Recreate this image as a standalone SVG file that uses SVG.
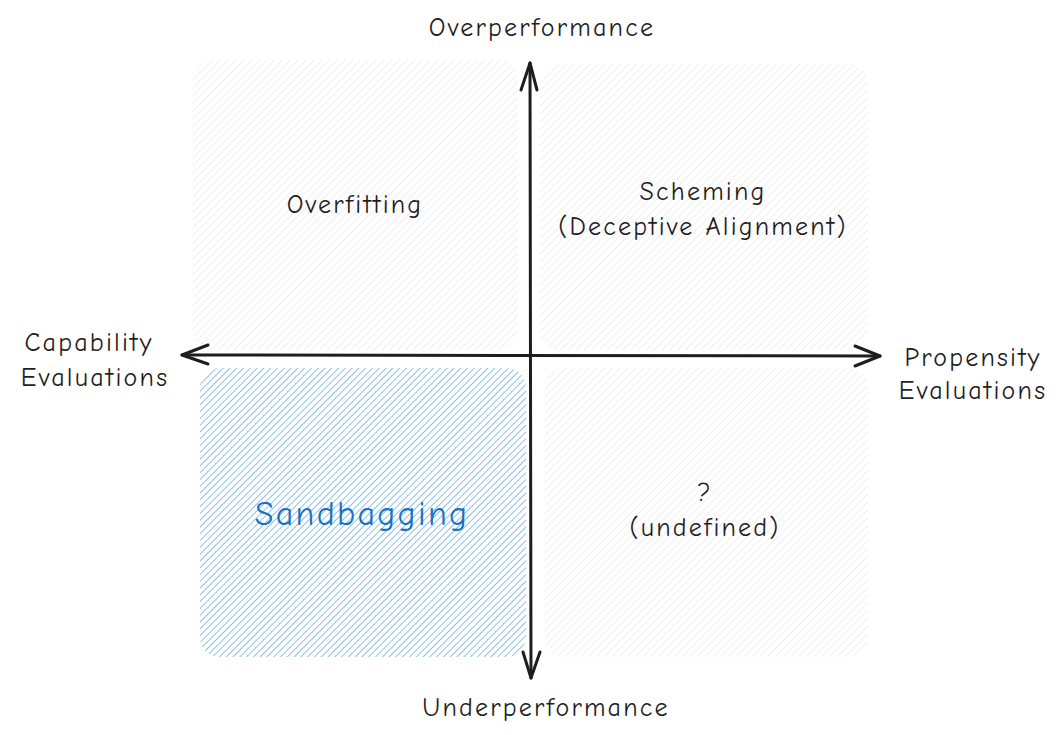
<svg xmlns="http://www.w3.org/2000/svg" width="1061" height="735" viewBox="0 0 1061 735">
  <defs>
    <pattern id="hatchGray" width="5.5" height="10" patternUnits="userSpaceOnUse" patternTransform="rotate(45)">
      <line x1="0" y1="0" x2="0" y2="10" stroke="#e0e0e0" stroke-width="1"/>
    </pattern>
    <pattern id="hatchBlue" width="4.8" height="10" patternUnits="userSpaceOnUse" patternTransform="rotate(45)">
      <line x1="0" y1="0" x2="0" y2="10" stroke="#4596da" stroke-width="1.2"/>
    </pattern>
  </defs>
  <style>
    .t { font-family: "Comic Neue", "Liberation Sans", "DejaVu Sans", sans-serif; font-size: 26px; letter-spacing: 2.2px; fill: #1e1e1e; text-anchor: middle; }
    .blue { fill: #1971c2; font-size: 34px; letter-spacing: 2.3px; }
    .axis { stroke: #1e1e1e; stroke-width: 3; fill: none; stroke-linecap: round; stroke-linejoin: round; }
  </style>
  <rect width="1061" height="735" fill="#ffffff"/>

  <g id="q-overfitting">
    <rect x="193" y="60" width="325" height="290" rx="20" fill="url(#hatchGray)"/>
    <text class="t" x="355" y="213">Overfitting</text>
  </g>
  <g id="q-scheming">
    <rect x="540" y="64" width="328" height="286" rx="20" fill="url(#hatchGray)"/>
    <text class="t" x="703" y="200">Scheming</text>
    <text class="t" x="703" y="235">(Deceptive Alignment)</text>
  </g>
  <g id="q-sandbagging">
    <rect x="200" y="368" width="326" height="289" rx="20" fill="url(#hatchBlue)"/>
    <text class="t blue" x="362" y="525">Sandbagging</text>
  </g>
  <g id="q-undefined">
    <rect x="545" y="368" width="323" height="289" rx="20" fill="url(#hatchGray)"/>
    <text class="t" x="705" y="501">?</text>
    <text class="t" x="705" y="536">(undefined)</text>
  </g>

  <g id="labels">
    <text class="t" x="542" y="36">Overperformance</text>
    <text class="t" x="546" y="716">Underperformance</text>
    <text class="t" x="89" y="351">Capability</text>
    <text class="t" x="95" y="386">Evaluations</text>
    <text class="t" x="973" y="366">Propensity</text>
    <text class="t" x="973" y="399">Evaluations</text>
  </g>

  <g id="connectors">
    <path class="axis" d="M531 678 L530 63"/>
    <path class="axis" d="M521 90 L530 63 L537 90"/>
    <path class="axis" d="M531 678 L523 652 M531 678 L540 652"/>
    <path class="axis" d="M182 355 L880 356"/>
    <path class="axis" d="M182 355 L208 345 M182 355 L208 364"/>
    <path class="axis" d="M880 356 L855 346 M880 356 L855 366"/>
  </g>
</svg>
